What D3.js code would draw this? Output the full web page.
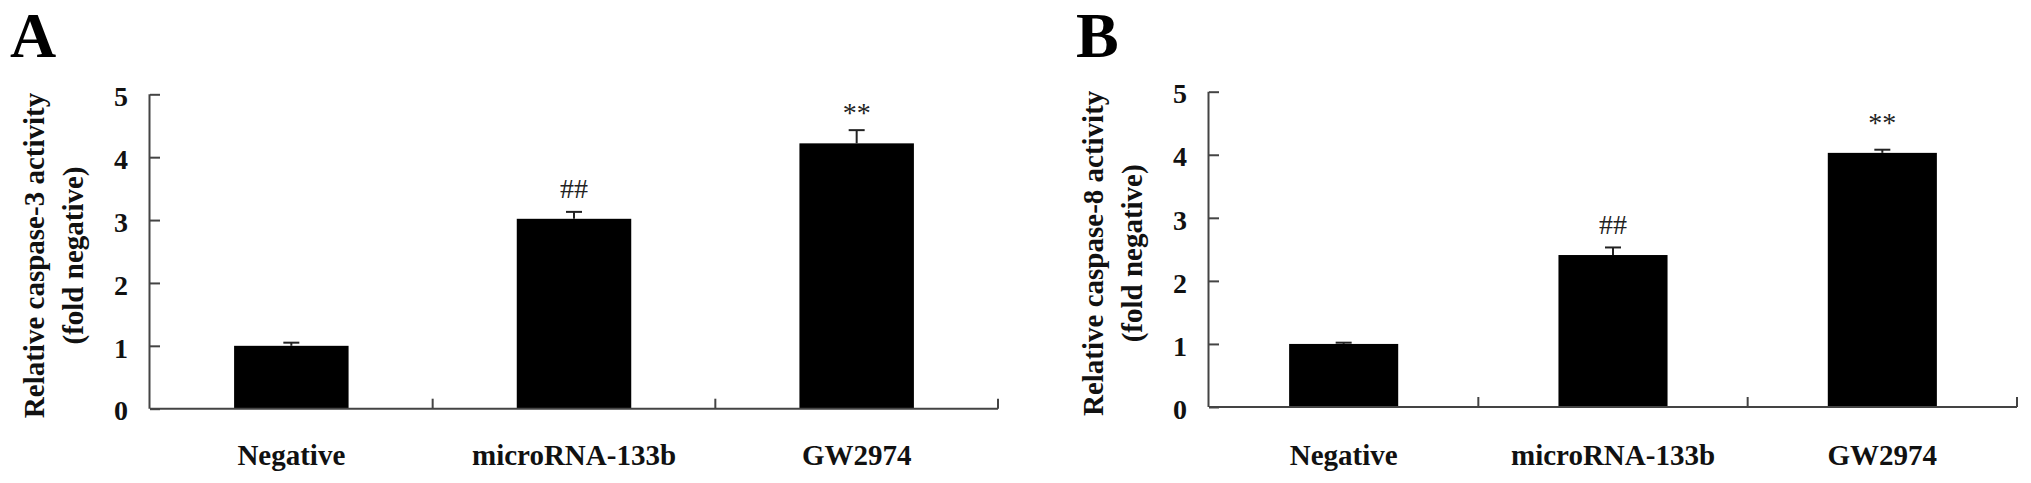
<!DOCTYPE html>
<html>
<head>
<meta charset="utf-8">
<script src="https://cdn.jsdelivr.net/npm/d3@7"></script>
<style>
  body { margin: 0; background: #fff; }
  svg { display: block; font-family: "Liberation Serif", "Times New Roman", serif; }
</style>
</head>
<body>
<div id="chart"></div>
<script>
const categories = ['Negative', 'microRNA-133b', 'GW2974'];
const yTicks = [0, 1, 2, 3, 4, 5];

const caspase3 = [1.0, 3.02, 4.22];
const caspase3Err = [0.05, 0.11, 0.21];
const caspase8 = [1.0, 2.41, 4.03];
const caspase8Err = [0.02, 0.12, 0.05];
const marks = ['', '##', '**'];

const svg = d3.select('#chart')
              .append('svg')
              .attr('width', 2031)
              .attr('height', 483);

const buildPanel = (opts) => {
    const {letter, title, values, errs, left, right, top, bottom, letterX} = opts;

    const x = d3.scaleBand()
                .domain(categories)
                .range([left, right]);
    const y = d3.scaleLinear()
                .domain([0, 5])
                .range([bottom, top]);
    const barW = x.bandwidth() * 0.405;

    const g = svg.append('g');

    // panel letter
    g.append('text')
        .attr('x', letterX)
        .attr('y', 57)
        .attr('font-size', 64)
        .attr('font-weight', 'bold')
        .text(letter);

    // bars
    g.selectAll('rect.bar')
        .data(values)
        .enter().append('rect')
        .attr('class', 'bar')
        .attr('x', (d, i) => x(categories[i]) + (x.bandwidth() - barW) / 2)
        .attr('y', d => y(d))
        .attr('width', barW)
        .attr('height', d => y(0) - y(d))
        .attr('fill', '#000');

    // error bars (upper only)
    const eb = g.selectAll('g.err')
        .data(values)
        .enter().append('g')
        .attr('class', 'err')
        .attr('stroke', '#222')
        .attr('stroke-width', 2);
    eb.append('line')
        .attr('x1', (d, i) => x(categories[i]) + x.bandwidth() / 2)
        .attr('x2', (d, i) => x(categories[i]) + x.bandwidth() / 2)
        .attr('y1', d => y(d))
        .attr('y2', (d, i) => y(d + errs[i]));
    eb.append('line')
        .attr('x1', (d, i) => x(categories[i]) + x.bandwidth() / 2 - 8)
        .attr('x2', (d, i) => x(categories[i]) + x.bandwidth() / 2 + 8)
        .attr('y1', (d, i) => y(d + errs[i]))
        .attr('y2', (d, i) => y(d + errs[i]));

    // significance marks
    g.selectAll('text.mark')
        .data(values)
        .enter().append('text')
        .attr('class', 'mark')
        .attr('x', (d, i) => x(categories[i]) + x.bandwidth() / 2)
        .attr('y', d => y(d) - 21)
        .attr('text-anchor', 'middle')
        .attr('font-size', 28)
        .attr('fill', '#222')
        .text((d, i) => marks[i]);

    // y axis
    const yAxis = d3.axisLeft(y)
                    .tickValues(yTicks)
                    .tickSize(-10)
                    .tickPadding(22)
                    .tickFormat(d3.format('d'));
    const ya = g.append('g')
        .attr('transform', `translate(${left},0)`)
        .call(yAxis);
    ya.select('.domain').attr('stroke', '#444').attr('stroke-width', 2)
        .attr('d', `M-0.5,${top}V${bottom}`);
    ya.selectAll('.tick line').attr('stroke', '#444').attr('stroke-width', 2);
    ya.selectAll('.tick text')
        .attr('font-size', 28)
        .attr('font-weight', 'bold')
        .attr('fill', '#111')
        .attr('font-family', '"Liberation Serif", "Times New Roman", serif')
        .attr('dy', '0.4em');

    // x axis: ticks between categories
    const xa = g.append('g');
    xa.append('line')
        .attr('x1', left).attr('x2', right)
        .attr('y1', bottom).attr('y2', bottom)
        .attr('stroke', '#444').attr('stroke-width', 2);
    xa.selectAll('line.sep')
        .data(categories)
        .enter().append('line')
        .attr('class', 'sep')
        .attr('x1', d => x(d) + x.bandwidth())
        .attr('x2', d => x(d) + x.bandwidth())
        .attr('y1', bottom)
        .attr('y2', bottom - 10)
        .attr('stroke', '#444').attr('stroke-width', 2);
    xa.selectAll('text')
        .data(categories)
        .enter().append('text')
        .attr('x', d => x(d) + x.bandwidth() / 2)
        .attr('y', 465)
        .attr('text-anchor', 'middle')
        .attr('font-size', 29)
        .attr('font-weight', 'bold')
        .attr('fill', '#111')
        .text(d => d);

    // y title, two lines
    const cy = (top + bottom) / 2 + 4;
    g.selectAll('text.ytitle')
        .data(title)
        .enter().append('text')
        .attr('class', 'ytitle')
        .attr('transform', (d, i) => `translate(${left - (i === 0 ? 106 : 67)},${cy}) rotate(-90)`)
        .attr('text-anchor', 'middle')
        .attr('font-size', 29)
        .attr('font-weight', 'bold')
        .attr('fill', '#111')
        .text(d => d);
};

buildPanel({
    letter: 'A',
    title: ['Relative caspase-3 activity', '(fold negative)'],
    values: caspase3, errs: caspase3Err,
    left: 150, right: 998, top: 94.3, bottom: 408.7, letterX: 10
});

buildPanel({
    letter: 'B',
    title: ['Relative caspase-8 activity', '(fold negative)'],
    values: caspase8, errs: caspase8Err,
    left: 1209, right: 2017, top: 91.7, bottom: 407, letterX: 1076
});
</script>
</body>
</html>
